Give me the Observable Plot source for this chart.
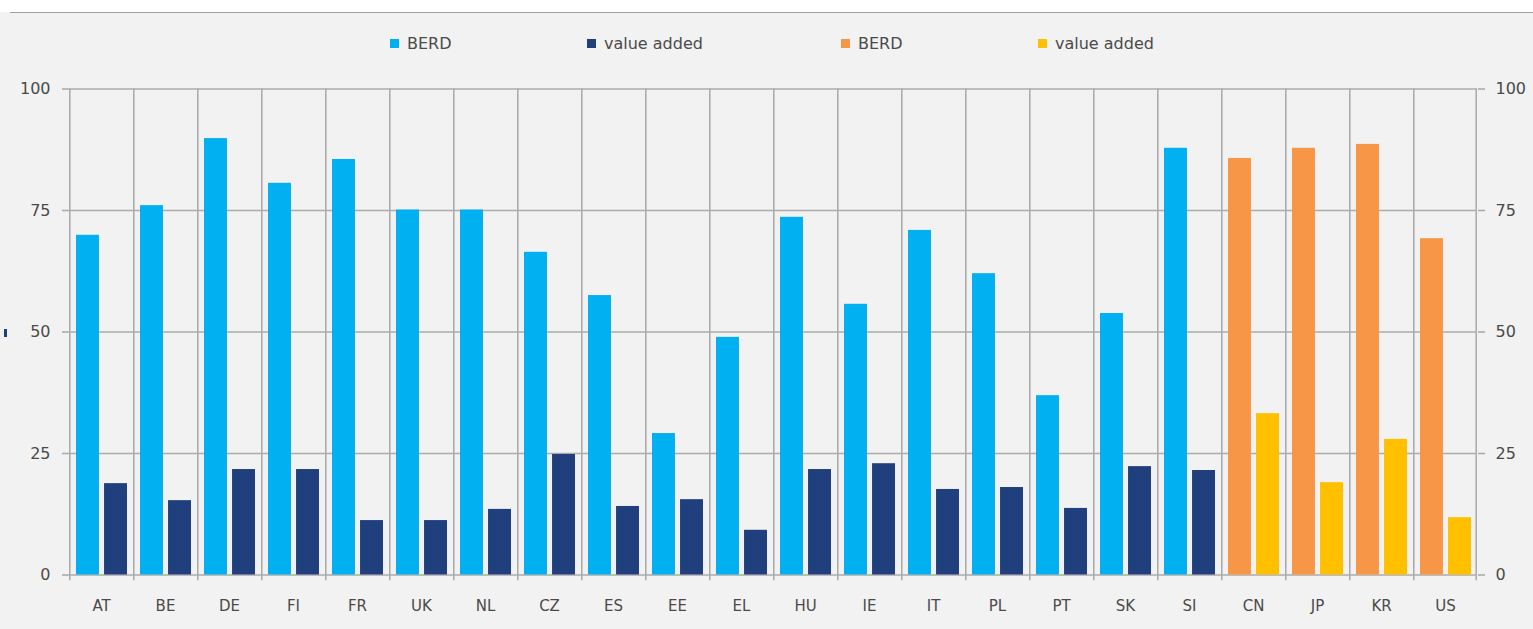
<!DOCTYPE html>
<html>
<head>
<meta charset="utf-8">
<script src="https://cdn.jsdelivr.net/npm/d3@7"></script>
<script src="https://cdn.jsdelivr.net/npm/@observablehq/plot@0.6"></script>
<style>
  html, body { margin: 0; padding: 0; background: #f2f2f2; width: 1533px; height: 629px; overflow: hidden; font-family: "DejaVu Sans", sans-serif; }
  #top { position: relative; height: 60px; }
  #strip { position: absolute; left: 0; top: 0; width: 1533px; height: 12px; background: #ffffff; }
  #line { position: absolute; left: 10px; top: 12px; width: 1523px; height: 0; border-top: 1.5px solid #a0a0a0; }
  .item { position: absolute; top: 34px; height: 18px; display: flex; align-items: center; font-size: 16px; color: #4a4a4a; white-space: nowrap; }
  .sw { width: 9px; height: 9px; margin-right: 8px; }
  #chart { position: relative; }
  #chart svg { display: block; }
  #stub { position: absolute; left: 4px; top: 269px; width: 3px; height: 8px; background: #1f3f7d; }
</style>
</head>
<body>
<div id="top">
  <div id="strip"></div>
  <div id="line"></div>
  <div id="legend"></div>
</div>
<div id="chart"><div id="stub"></div></div>
<script>
const countries = ["AT","BE","DE","FI","FR","UK","NL","CZ","ES","EE","EL","HU","IE","IT","PL","PT","SK","SI","CN","JP","KR","US"];
const berd      = [69.9, 76.0, 89.8, 80.6, 85.5, 75.1, 75.1, 66.4, 57.5, 29.1, 48.9, 73.6, 55.7, 70.9, 62.0, 36.9, 53.8, 87.8, 85.7, 87.8, 88.6, 69.2];
const valueAdded= [18.8, 15.3, 21.7, 21.7, 11.2, 11.2, 13.5, 24.8, 14.1, 15.5, 9.2, 21.7, 22.9, 17.6, 18.0, 13.7, 22.3, 21.5, 33.2, 19.0, 27.9, 11.8];
const nonEU = ["CN","JP","KR","US"];
const yTicks = [0, 25, 50, 75, 100];
const legendItems = [
  {label: "BERD", color: "#00b0f0", left: 390},
  {label: "value added", color: "#1f3f7d", left: 587},
  {label: "BERD", color: "#f79646", left: 841},
  {label: "value added", color: "#ffc000", left: 1038}
];
const colors = {euBerd: "#00b0f0", euVa: "#1f3f7d", otherBerd: "#f79646", otherVa: "#ffc000"};

const data = countries.map((c, i) => ({country: c, berd: berd[i], va: valueAdded[i], other: nonEU.includes(c)}));

const legend = document.getElementById("legend");
for (const it of legendItems) {
  const d = document.createElement("div");
  d.className = "item";
  d.style.left = it.left + "px";
  d.innerHTML = `<span class="sw" style="background:${it.color}"></span><span>${it.label}</span>`;
  legend.appendChild(d);
}

const W = 1533, H = 569, mL = 68, mR = 56, mT = 28.5, mB = 54.5;
const bw = (W - mL - mR) / countries.length;
const barW = 23;
const grid = "#ababab";
const txt = "#4a4a4a";

const chart = Plot.plot({
  width: W,
  height: H,
  marginLeft: mL,
  marginRight: mR,
  marginTop: mT,
  marginBottom: mB,
  style: {background: "transparent", fontFamily: "DejaVu Sans, sans-serif", fontSize: "16px", color: txt},
  x: {domain: countries, padding: 0, label: null},
  y: {domain: [0, 100], label: null},
  marks: [
    Plot.ruleY(yTicks, {y: d => d, stroke: grid, strokeWidth: 1.6}),
    Plot.barY(countries, {x: d => d, y1: -1.2, y2: 100, fill: grid, insetLeft: 0, insetRight: bw - 1.6}),
    Plot.barY([countries[countries.length - 1]], {x: d => d, y1: -1.2, y2: 100, fill: grid, insetLeft: bw - 1.6, insetRight: 0}),
    Plot.barY(data, {x: "country", y: "berd", fill: d => d.other ? colors.otherBerd : colors.euBerd, insetLeft: 7, insetRight: bw - 7 - barW}),
    Plot.barY(data, {x: "country", y: "va", fill: d => d.other ? colors.otherVa : colors.euVa, insetLeft: bw - 6 - barW, insetRight: 6}),
    Plot.axisY({anchor: "left", ticks: yTicks, tickSize: 6, tickPadding: 12, stroke: grid, strokeWidth: 1.6, fill: txt, label: null}),
    Plot.axisY({anchor: "right", ticks: yTicks, tickSize: 7, tickPadding: 11, stroke: grid, strokeWidth: 1.6, fill: txt, label: null}),
    Plot.axisX({anchor: "bottom", tickSize: 0, tickPadding: 25, fill: txt, label: null, fontSize: 15})
  ]
});
document.getElementById("chart").appendChild(chart);
</script>
</body>
</html>
